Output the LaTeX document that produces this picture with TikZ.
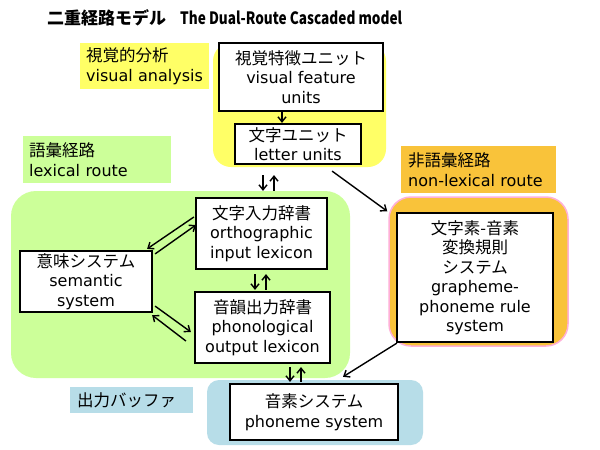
\documentclass[tikz,border=0pt]{standalone}
\usepackage{fontspec}
\usepackage{graphicx}
\setmainfont{DejaVu Sans}
\newfontfamily\jp{Noto Sans CJK JP}
\usetikzlibrary{arrows.meta}
\definecolor{yel}{HTML}{FFFF66}
\definecolor{grn}{HTML}{CCFF99}
\definecolor{org}{HTML}{F9C33A}
\definecolor{pnk}{HTML}{FFB0D8}
\definecolor{blu}{HTML}{B7DDE8}
\newcommand\J[1]{{\jp\fontsize{16.5}{19.5}\selectfont #1}}
\begin{document}
\begin{tikzpicture}[x=1pt,y=-1pt,
  every node/.style={font=\fontsize{16}{19.5}\selectfont},
  region/.style={inner sep=0pt},
  lab/.style={anchor=north west,inner ysep=0pt,align=left},
  box/.style={draw=black,fill=white,line width=2.2pt,inner sep=1pt,align=center},
  arr/.style={line width=1.4pt,-{Straight Barb[length=5pt,width=8pt]}}]
\useasboundingbox (0,0) rectangle (600,450);
\fill[white] (0,0) rectangle (600,450);
% title
\node[anchor=west,inner sep=0pt] (title) at (47,18) {\jp\bfseries\fontsize{17}{20}\selectfont 二重経路モデル\hspace{14pt}\scalebox{0.8}[1]{The Dual-Route Cascaded model}};
% regions
\node[region,fill=yel,rounded corners=18pt,minimum width=173,minimum height=124] (yreg) at (299.5,105) {};
\node[region,fill=grn,rounded corners=25pt,minimum width=339,minimum height=187] (greg) at (180.5,284.5) {};
\node[region,fill=org,draw=pnk,line width=1.5pt,rounded corners=22pt,minimum width=179,minimum height=149] (oreg) at (478.5,271.5) {};
\node[region,fill=blu,rounded corners=12pt,minimum width=216,minimum height=65] (breg) at (315,412.5) {};
% labels
\node[lab,fill=yel,inner xsep=6pt,text width=117pt,minimum height=46] (ylab) at (80,43) {\J{視覚的分析}\\visual analysis};
\node[lab,fill=grn,inner xsep=6pt,text width=136pt,minimum height=47] (glab) at (23,136) {\J{語彙経路}\\lexical route};
\node[lab,fill=org,inner xsep=7pt,text width=141pt,minimum height=47] (olab) at (401,146) {\J{非語彙経路}\\non-lexical route};
\node[lab,fill=blu,inner xsep=7pt,text width=109pt,minimum height=26] (blab) at (70,387) {\J{出力バッファ}};
% boxes
\node[box,minimum width=164,minimum height=68] (vfu) at (301,77) {\J{視覚特徴ユニット}\\visual feature\\units};
\node[box,minimum width=126,minimum height=40] (lu) at (298,144) {\J{文字ユニット}\\letter units};
\node[box,minimum width=131,minimum height=71] (oil) at (261.5,233.5) {\J{文字入力辞書}\\orthographic\\input lexicon};
\node[box,minimum width=132,minimum height=61] (sem) at (86,281.5) {\J{意味システム}\\semantic\\system};
\node[box,minimum width=135,minimum height=71] (pol) at (262.5,327.5) {\J{音韻出力辞書}\\phonological\\output lexicon};
\node[box,minimum width=156,minimum height=129] (gpc) at (475,277.5) {\J{文字素-音素}\\\J{変換規則}\\\J{システム}\\grapheme-\\phoneme rule\\system};
\node[box,minimum width=168,minimum height=56] (phs) at (314,412) {\J{音素システム}\\phoneme system};
% connectors
\draw[arr] ([xshift=-19pt]vfu.south) -- ([xshift=-16pt]lu.north);
\draw[arr] ([xshift=-35pt,yshift=-10pt]lu.south) -- ([xshift=1.5pt,yshift=6pt]oil.north);
\draw[arr] ([xshift=12.5pt,yshift=6pt]oil.north) -- ([xshift=-24pt,yshift=-10pt]lu.south);
\draw[arr] ([xshift=-6.5pt,yshift=-4pt]oil.south) -- ([xshift=-7.5pt,yshift=1pt]pol.north);
\draw[arr] ([xshift=3.5pt,yshift=1pt]pol.north) -- ([xshift=4.5pt,yshift=-4pt]oil.south);
\draw[arr] ([xshift=27.5pt,yshift=-3pt]pol.south) -- ([xshift=-24pt,yshift=1pt]phs.north);
\draw[arr] ([xshift=-13pt,yshift=1pt]phs.north) -- ([xshift=38.5pt,yshift=-3pt]pol.south);
\draw[arr] ([xshift=-1pt,yshift=16.5pt]oil.west) -- ([xshift=-6pt,yshift=1pt]sem.north east);
\draw[arr] ([xshift=2pt,yshift=-4pt]sem.north east) -- ([xshift=1pt,yshift=8.5pt]oil.west);
\draw[arr] ([xshift=2pt,yshift=7pt]sem.south east) -- ([xshift=-3pt,yshift=-4.5pt]pol.west);
\draw[arr] ([xshift=-8pt,yshift=-13.5pt]pol.west) -- ([xshift=-1pt,yshift=-2pt]sem.south east);
\draw[arr] ([xshift=-30pt,yshift=-6pt]lu.south east) -- ([xshift=-1pt,yshift=-15pt]oreg.north west);
\draw[arr] ([xshift=1pt]gpc.south west) -- ([xshift=28pt,yshift=3pt]breg.north);
\end{tikzpicture}
\end{document}
